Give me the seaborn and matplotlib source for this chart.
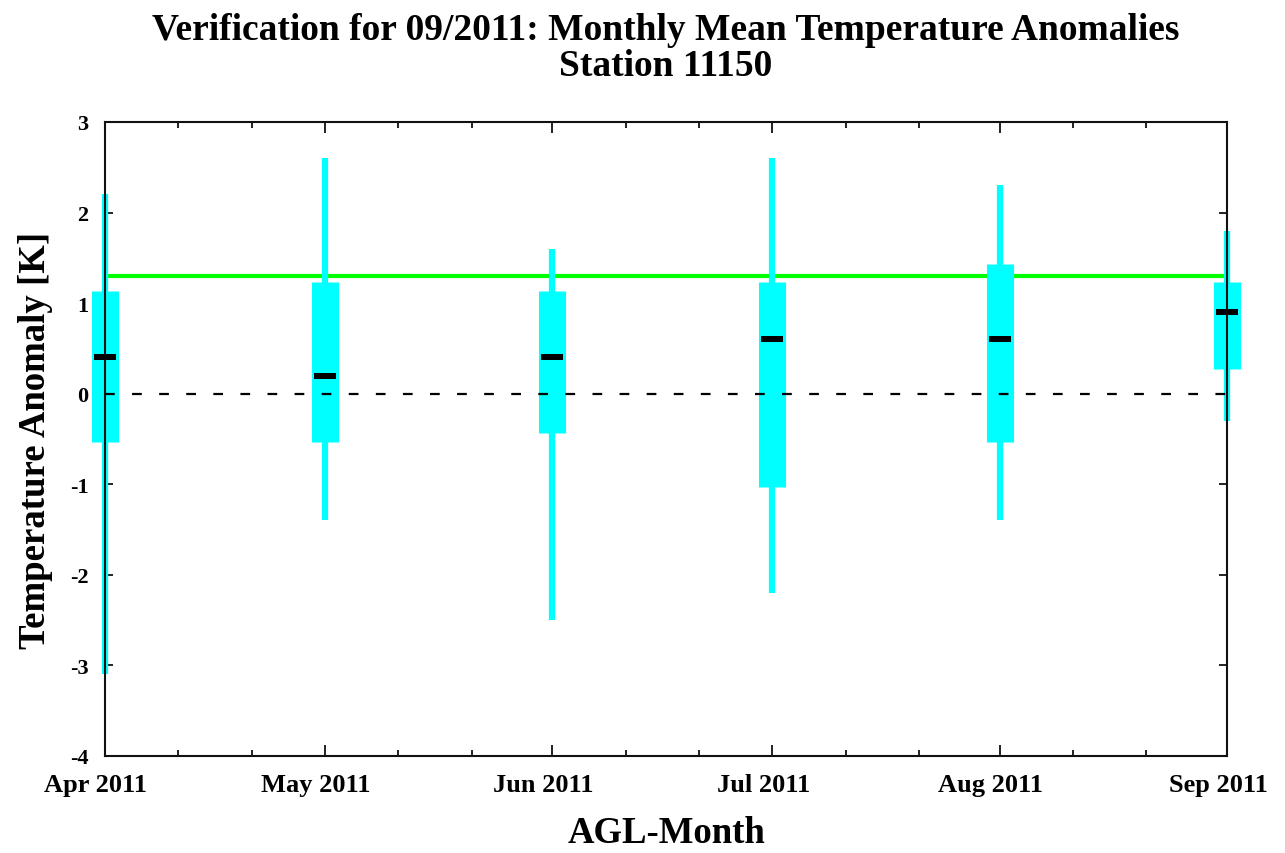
import matplotlib
matplotlib.use('Agg')
import matplotlib.pyplot as plt
import matplotlib.dates as mdates
import matplotlib.transforms as mtransforms
import seaborn as sns
import pandas as pd
import numpy as np

# values
months = ['2011-04-01', '2011-05-01', '2011-06-01', '2011-07-01', '2011-08-01', '2011-09-01']
whisker_low = [-3.1, -1.4, -2.5, -2.2, -1.4, -0.3]
whisker_high = [2.2, 2.6, 1.6, 2.6, 2.3, 1.8]
box_low = [-0.53, -0.53, -0.43, -1.03, -0.53, 0.27]
box_high = [1.13, 1.23, 1.13, 1.23, 1.43, 1.23]
medians = [0.4, 0.2, 0.4, 0.6, 0.6, 0.9]
observed = 1.3

title = 'Verification for 09/2011: Monthly Mean Temperature Anomalies\nStation 11150'

sns.set_theme(style='ticks')
plt.rcParams['font.family'] = ['Liberation Serif', 'DejaVu Serif']
plt.rcParams['font.weight'] = 'bold'
plt.rcParams['lines.scale_dashes'] = False
plt.rcParams['axes.unicode_minus'] = False
for key in ('text.color', 'axes.labelcolor', 'xtick.color', 'ytick.color'):
    plt.rcParams[key] = 'black'

df = pd.DataFrame({'month': pd.to_datetime(months), 'lo': whisker_low, 'hi': whisker_high,
                   'q1': box_low, 'q3': box_high, 'med': medians})

fig = plt.figure(figsize=(12.85, 8.54), dpi=100)
ax = fig.add_axes([0.0817, 0.1136, 0.8733, 0.7424])

x0 = pd.Timestamp(months[0])
x1 = pd.Timestamp(months[-1])

ax.hlines(observed, x0, x1, color='#00ff00', lw=3, zorder=1)
ax.vlines(df['month'], df['lo'], df['hi'], color='#00ffff', lw=4.5, zorder=2, clip_on=False)
ax.vlines(df['month'], df['q1'], df['q3'], color='#00ffff', lw=19.5, zorder=2, clip_on=False)
ax.axhline(0, color='black', lw=1.6, dashes=(7, 12.5), zorder=3)
sns.scatterplot(data=df, x='month', y='med', marker='_', s=260, linewidth=4.3,
                color='black', ax=ax, zorder=5, clip_on=False, legend=False)

ax.set_xlim(x0, x1)
ax.set_ylim(-4, 3)
ax.set_yticks(np.arange(-4, 4, 1))
ax.xaxis.set_major_locator(mdates.MonthLocator())
ax.xaxis.set_minor_locator(mdates.DayLocator(bymonthday=[11, 21]))
ax.xaxis.set_major_formatter(mdates.DateFormatter('%b %Y'))

for s in ax.spines.values():
    s.set_linewidth(1.5)
    s.set_color('#111111')
ax.tick_params(axis='both', which='both', direction='in', top=True, right=True, color='#111111')
ax.tick_params(axis='x', which='major', length=8, width=1.3, labelsize=19, pad=12)
ax.tick_params(axis='x', which='minor', length=4, width=1.3)
ax.tick_params(axis='y', which='major', length=6, width=1.3, labelsize=16, pad=12)

# month labels sit a little left of their ticks in the original
shift = mtransforms.ScaledTranslation(-9 / 100, 0, fig.dpi_scale_trans)
for lab in ax.get_xticklabels():
    lab.set_transform(lab.get_transform() + shift)

ax.set_xlabel('AGL-Month', fontsize=26.5, fontweight='bold', labelpad=14)
ax.set_ylabel('Temperature Anomaly [K]', fontsize=26.5, fontweight='bold', labelpad=12)
ax.set_title(title, fontsize=27, fontweight='bold', pad=34, linespacing=1.02)

fig.savefig('out.png', dpi=100, facecolor='white')
